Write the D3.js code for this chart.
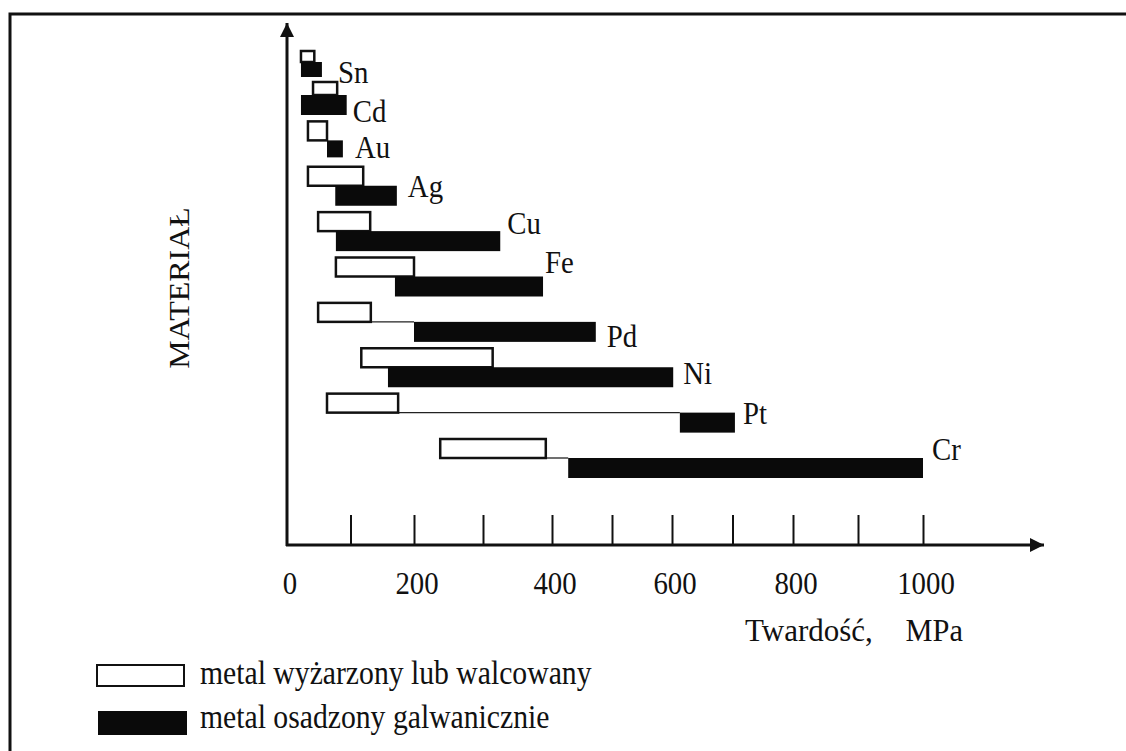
<!DOCTYPE html>
<html>
<head>
<meta charset="utf-8">
<script src="https://cdn.jsdelivr.net/npm/d3@7"></script>
<style>
  html, body { margin: 0; padding: 0; background: #fff; }
  svg { display: block; }
  text { font-family: "Liberation Serif", "Times New Roman", serif; fill: #111; }
</style>
</head>
<body>
<svg class="js-render-chart" width="1126" height="751"></svg>
<script>
"use strict";

//data

const metals = ["Sn", "Cd", "Au", "Ag", "Cu", "Fe", "Pd", "Ni", "Pt", "Cr"];

const annealedFrom = [22, 41, 33, 33, 49, 77, 49, 117, 63, 238];
const annealedTo = [43, 79, 63, 120, 131, 200, 132, 314, 175, 391];

const platedFrom = [22, 22, 63, 76, 77, 170, 200, 159, 613, 427];
const platedTo = [55, 94, 88, 173, 325, 387, 473, 602, 704, 1000];

const minorTicks = [100, 200, 300, 400, 500, 600, 700, 800, 900, 1000];
const tickLabels = [0, 200, 400, 600, 800, 1000];

const axisTitleX = ["Twardość,", "MPa"];
const axisTitleY = "MATERIAŁ";
const legendLabels = ["metal wyżarzony lub walcowany", "metal osadzony galwanicznie"];

//layout

const w = 1126;
const h = 751;
const origin = { x: 287, y: 545 };
const squeeze = 0.9;

//label nudges beside the black bar end [dx, dy from row line]
const labelNudge = {
  Sn: [16, 21], Cd: [6, 27], Au: [12, 18], Ag: [11, 11], Cu: [7, 3],
  Fe: [2, -4], Pd: [11, 25], Ni: [10, 17], Pt: [8, 11], Cr: [9, 2]
};

//the scan's lettering is a little taller than it is wide
const place = (fx, fy, sx = squeeze) => (d, i) =>
  `translate(${typeof fx === "function" ? fx(d, i) : fx},${typeof fy === "function" ? fy(d, i) : fy})` +
  ` scale(${sx},1)`;

//scales (hand-drawn axis, slightly uneven spacing)

const x = d3.scaleLinear()
  .domain([0, 200, 400, 600, 800, 1000])
  .range([287, 414, 552, 672, 793, 923]);

const y = d3.scaleLinear()
  .domain([0, 1, metals.length - 1])
  .range([62, 95, 458]);

const svg = d3.select(".js-render-chart");

//frame

svg.append("path")
  .attr("d", `M10,${h} L10,14 L${w},14`)
  .attr("fill", "none")
  .attr("stroke", "#111")
  .attr("stroke-width", 3);

//arrowheads

const defs = svg.append("defs");

defs.append("marker")
  .attr("id", "arrow")
  .attr("viewBox", "0 0 10 10")
  .attr("refX", 10)
  .attr("refY", 5)
  .attr("markerUnits", "userSpaceOnUse")
  .attr("markerWidth", 24)
  .attr("markerHeight", 14)
  .attr("orient", "auto")
  .append("path")
  .attr("d", "M0,0 L10,5 L0,10 Z")
  .attr("fill", "#111");

//axes

svg.append("line")
  .attr("x1", origin.x - 1)
  .attr("y1", origin.y)
  .attr("x2", 1044)
  .attr("y2", origin.y)
  .attr("stroke", "#111")
  .attr("stroke-width", 3)
  .attr("marker-end", "url(#arrow)");

svg.append("line")
  .attr("x1", origin.x)
  .attr("y1", origin.y + 1)
  .attr("x2", origin.x)
  .attr("y2", 23)
  .attr("stroke", "#111")
  .attr("stroke-width", 3)
  .attr("marker-end", "url(#arrow)");

const xAxis = d3.axisTop(x)
  .tickValues(minorTicks)
  .tickSize(30)
  .tickFormat("");

const axisG = svg.append("g")
  .attr("transform", `translate(0,${origin.y})`)
  .call(xAxis);

axisG.select(".domain").remove();
axisG.selectAll(".tick line")
  .attr("stroke", "#111")
  .attr("stroke-width", 2);

svg.append("g")
  .selectAll("text")
  .data(tickLabels)
  .enter()
  .append("text")
  .attr("transform", place((d) => x(d) + 3, 594))
  .attr("text-anchor", "middle")
  .attr("font-size", 32)
  .text((d) => d);

svg.append("text")
  .attr("transform", place(745, 641, 1))
  .attr("font-size", 31)
  .text(axisTitleX[0]);

svg.append("text")
  .attr("transform", place(963, 641, 0.95))
  .attr("text-anchor", "end")
  .attr("font-size", 32)
  .text(axisTitleX[1]);

svg.append("text")
  .attr("transform", `translate(189,288) rotate(-90) scale(1,${squeeze})`)
  .attr("text-anchor", "middle")
  .attr("font-size", 32)
  .text(axisTitleY);

//bars

const rows = metals.map((m, i) => ({
  metal: m,
  line: y(i),
  aFrom: annealedFrom[i],
  aTo: annealedTo[i],
  pFrom: platedFrom[i],
  pTo: platedTo[i],
  aH: i === 0 ? 11 : (i === 1 ? 13 : 19),
  pH: i === 0 ? 15 : (i === 2 ? 17 : 20)
}));

const row = svg.append("g")
  .selectAll("g")
  .data(rows)
  .enter()
  .append("g");

//thin connectors where the ranges do not meet

row.filter((d) => d.pFrom > d.aTo)
  .append("line")
  .attr("x1", (d) => x(d.aTo))
  .attr("x2", (d) => x(d.pFrom))
  .attr("y1", (d) => d.line)
  .attr("y2", (d) => d.line)
  .attr("stroke", "#222")
  .attr("stroke-width", 1.3);

row.append("rect")
  .attr("x", (d) => x(d.aFrom))
  .attr("y", (d) => d.line - d.aH)
  .attr("width", (d) => x(d.aTo) - x(d.aFrom))
  .attr("height", (d) => d.aH)
  .attr("fill", "#fff")
  .attr("stroke", "#111")
  .attr("stroke-width", 2.5);

row.append("rect")
  .attr("x", (d) => x(d.pFrom))
  .attr("y", (d) => d.line)
  .attr("width", (d) => x(d.pTo) - x(d.pFrom))
  .attr("height", (d) => d.pH)
  .attr("fill", "#0a0a0a");

row.append("text")
  .attr("transform", place(
    (d) => x(d.pTo) + labelNudge[d.metal][0],
    (d) => d.line + labelNudge[d.metal][1]
  ))
  .attr("font-size", 32)
  .text((d) => d.metal);

//legend

const legend = svg.append("g");

legend.append("rect")
  .attr("x", 97)
  .attr("y", 665)
  .attr("width", 87)
  .attr("height", 21)
  .attr("fill", "#fff")
  .attr("stroke", "#111")
  .attr("stroke-width", 2);

legend.append("rect")
  .attr("x", 98)
  .attr("y", 711)
  .attr("width", 89)
  .attr("height", 24)
  .attr("fill", "#0a0a0a");

legend.selectAll("text")
  .data(legendLabels)
  .enter()
  .append("text")
  .attr("transform", place(200, (d, i) => 684 + i * 44))
  .attr("font-size", 33)
  .text((d) => d);
</script>
</body>
</html>
